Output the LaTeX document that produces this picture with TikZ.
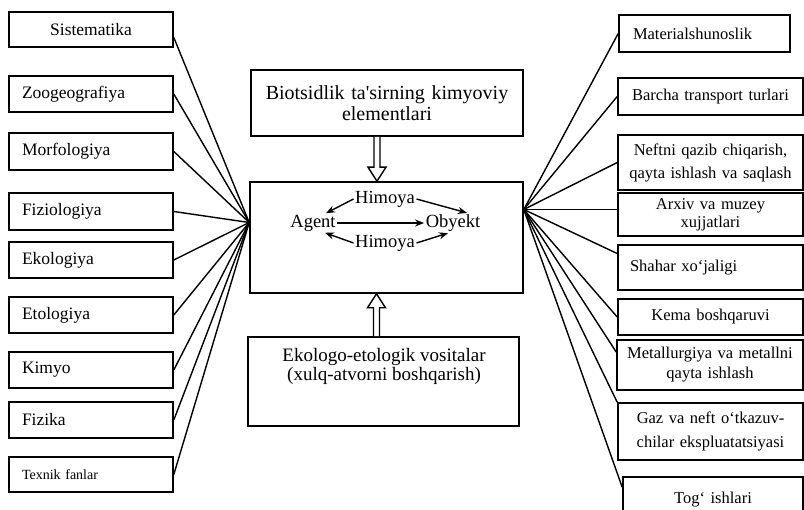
\documentclass[tikz,border=0pt]{standalone}
\usepackage{fontspec}
\setmainfont{Liberation Serif}
\usetikzlibrary{calc,arrows.meta}

\begin{document}
\begin{tikzpicture}[x=1pt, y=-1pt, line width=1.4pt,
  box/.style={draw, line width=1.6pt, inner sep=0pt},
  lbox/.style={box, text width=138pt, inner xsep=13pt, minimum height=36pt, align=left, font=\fontsize{17.5}{20}\selectfont},
  rbox/.style={box, text width=181pt, inner xsep=2pt, align=center, font=\fontsize{16.5}{20}\selectfont},
  lab/.style={inner sep=1pt, font=\fontsize{18.5}{20}\selectfont},
  tip/.style={-{Stealth[length=9pt,width=7pt]}}]
\useasboundingbox (0,0) rectangle (804,510) ;
\clip (0,0) rectangle (804,510) ;
% left column
\node[lbox, align=center, minimum height=35pt] (sist) at (91,29.5) {Sistematika} ;
\node[lbox] (zoog) at (91,94) {Zoogeografiya} ;
\node[lbox, minimum height=37pt] (morf) at (91,151.5) {Morfologiya} ;
\node[lbox, minimum height=37pt] (fizl) at (91,211.5) {Fiziologiya} ;
\node[lbox] (ekol) at (91,260) {Ekologiya} ;
\node[lbox] (etol) at (91,315) {Etologiya} ;
\node[lbox] (kimy) at (91,370) {Kimyo} ;
\node[lbox] (fizk) at (91,420) {Fizika} ;
\node[lbox, minimum height=35pt, font=\fontsize{14}{16}\selectfont] (texn) at (91,474.5) {Texnik fanlar} ;
% middle column
\node[box, text width=268pt, inner xsep=2pt, minimum height=66pt, align=center, font=\fontsize{20}{21}\selectfont] (top) at (387,103) {Biotsidlik ta\textquotesingle sirning kimyoviy\\elementlari} ;
\node[box, minimum width=273pt, minimum height=111pt] (cen) at (386.5,237.5) {} ;
\node[box, minimum width=271pt, minimum height=89pt] (bot) at (383.5,381.5) {} ;
\node[align=center, font=\fontsize{19}{19}\selectfont] (bottxt) at (384,366) {Ekologo-etologik vositalar\\(xulq-atvorni boshqarish)} ;
% inside the central box
\node[lab] (him1) at (385,199) {Himoya} ;
\node[lab] (agent) at (313,223) {Agent} ;
\node[lab] (obj) at (453,223) {Obyekt} ;
\node[lab] (him2) at (385,243) {Himoya} ;
\draw[tip] (him1.west) -- ([xshift=13pt]agent.north) ;
\draw[tip] (him1.east) -- ([xshift=14pt]obj.north) ;
\draw[tip] (agent.east) -- (obj.west) ;
\draw[tip] (him2.west) -- ([xshift=12pt]agent.south) ;
\draw[tip] (him2.east) -- ([xshift=-5pt]obj.south) ;
% hollow arrows
\coordinate (t1) at ([xshift=-10pt]top.south) ;
\coordinate (t2) at (t1 |- cen.north) ;
\draw[fill=white] ($(t1)+(-3,0)$) -- ($(t2)+(-3,-14)$) -- ($(t2)+(-9,-14)$) -- (t2) -- ($(t2)+(9,-14)$) -- ($(t2)+(3,-14)$) -- ($(t1)+(3,0)$) ;
\coordinate (b2) at ([xshift=-10pt]cen.south) ;
\coordinate (b1) at (b2 |- bot.north) ;
\draw[fill=white] ($(b1)+(-3,0)$) -- ($(b2)+(-3,14)$) -- ($(b2)+(-9,14)$) -- (b2) -- ($(b2)+(9,14)$) -- ($(b2)+(3,14)$) -- ($(b1)+(3,0)$) ;
% right column
\node[rbox, text width=143pt, inner xsep=14pt, align=left, minimum height=37pt] (mat) at (704.5,33.5) {Materialshunoslik} ;
\node[rbox, minimum height=37pt] (bar) at (710.5,96.5) {Barcha transport turlari} ;
\node[rbox, minimum height=55pt, font=\fontsize{16.5}{23}\selectfont] (nef) at (710.5,162.5) {Neftni qazib chiqarish,\\qayta ishlash va saqlash} ;
\node[rbox, minimum height=43pt, font=\fontsize{16.5}{18}\selectfont] (arx) at (710.5,214.5) {Arxiv va muzey\\xujjatlari} ;
\node[rbox, text width=161pt, inner xsep=12pt, align=left, minimum height=45pt] (sha) at (710.5,267.5) {Shahar xo‘jaligi} ;
\node[rbox, minimum height=36pt] (kem) at (710.5,317) {Kema boshqaruvi} ;
\node[rbox, text width=184pt, inner xsep=1pt, minimum height=50pt] (met) at (710,365) {Metallurgiya va metallni\\qayta ishlash} ;
\node[rbox, minimum height=57pt, font=\fontsize{16.5}{24}\selectfont] (gaz) at (710.5,431.5) {Gaz va neft o‘tkazuv-\\chilar ekspluatatsiyasi} ;
\node[rbox, text width=176pt, minimum height=45pt] (tog) at (713,499.5) {Tog‘ ishlari} ;
% connectors left
\coordinate (lhub) at ([yshift=15pt]cen.west) ;
\draw ([yshift=-8pt]sist.east) -- (lhub) ;
\draw (zoog.east) -- (lhub) ;
\draw (morf.east) -- (lhub) ;
\draw (fizl.east) -- (lhub) ;
\draw (ekol.east) -- (lhub) ;
\draw (etol.east) -- (lhub) ;
\draw (kimy.east) -- (lhub) ;
\draw (fizk.east) -- (lhub) ;
\draw (texn.east) -- (lhub) ;
% connectors right
\coordinate (rhub) at ([yshift=28pt]cen.east) ;
\draw (rhub) -- (mat.west) ;
\draw (rhub) -- (bar.west) ;
\draw (rhub) -- (nef.west) ;
\draw (rhub) -- (rhub -| arx.west) ;
\draw (rhub) -- ([yshift=14pt]sha.west) ;
\draw (rhub) -- (kem.west) ;
\draw (rhub) -- ([yshift=13pt]met.west) ;
\draw (rhub) -- (gaz.north west) ;
\draw (rhub) -- ([yshift=-11pt]tog.north west) ;
\end{tikzpicture}
\end{document}
